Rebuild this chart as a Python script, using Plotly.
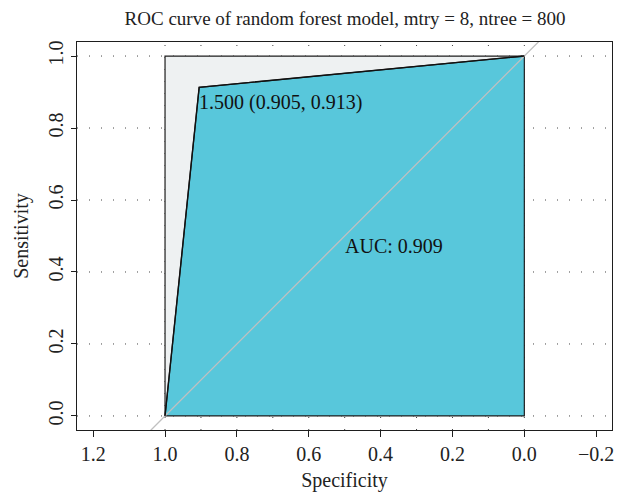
import plotly.graph_objects as go

# ROC data
specificity = [1.0, 0.905, 0.0]
sensitivity = [0.0, 0.913, 1.0]
threshold_label = "1.500 (0.905, 0.913)"
auc_value = 0.909
x_ticks = [1.2, 1.0, 0.8, 0.6, 0.4, 0.2, 0.0, -0.2]
y_ticks = [0.0, 0.2, 0.4, 0.6, 0.8, 1.0]
x_grid = [1.0, 0.9, 0.8, 0.7, 0.6, 0.5, 0.4, 0.3, 0.2, 0.1, 0.0]

FONT = "Liberation Serif"
EDGE = "#1e1e1e"
xr = [1.245, -0.244]
yr = [-0.039, 1.039]

fig = go.Figure()

# grey max-ROC polygon
fig.add_trace(go.Scatter(
    x=[specificity[0], specificity[0], specificity[-1], specificity[0]],
    y=[sensitivity[0], sensitivity[-1], sensitivity[-1], sensitivity[0]],
    mode="lines", fill="toself", fillcolor="#EEF1F2",
    line=dict(color=EDGE, width=1.2), hoverinfo="skip", showlegend=False))

# cyan AUC polygon
fig.add_trace(go.Scatter(
    x=specificity + [specificity[-1], specificity[0]],
    y=sensitivity + [sensitivity[0], sensitivity[0]],
    mode="lines", fill="toself", fillcolor="#58C7DB",
    line=dict(color=EDGE, width=1.2), hoverinfo="skip", showlegend=False))

# diagonal reference line
fig.add_trace(go.Scatter(
    x=[xr[0] + 1, xr[1] - 1], y=[1 - (xr[0] + 1), 1 - (xr[1] - 1)],
    mode="lines", line=dict(color="#C0C0C0", width=1.3),
    hoverinfo="skip", showlegend=False))

# ROC curve
fig.add_trace(go.Scatter(
    x=specificity, y=sensitivity, mode="lines",
    line=dict(color="#111111", width=1.4), hoverinfo="skip", showlegend=False))

shapes = []
for gx in x_grid:
    shapes.append(dict(type="line", xref="x", yref="paper", x0=gx, x1=gx, y0=0, y1=1,
                       layer="below", line=dict(color="#444444", width=1, dash="1px,11px")))
for gy in y_ticks:
    shapes.append(dict(type="line", xref="paper", yref="y", x0=0, x1=1, y0=gy, y1=gy,
                       layer="below", line=dict(color="#444444", width=1, dash="1px,11px")))

fig.update_layout(
    width=624, height=492,
    margin=dict(l=77, r=12, t=42, b=62),
    paper_bgcolor="white", plot_bgcolor="white",
    font=dict(family=FONT, size=19, color="#222222"),
    title=dict(text="ROC curve of random forest model, mtry = 8, ntree = 800",
               x=0.553, xanchor="center", y=0.962, yanchor="middle",
               font=dict(family=FONT, size=19, color="#222222")),
    shapes=shapes,
    annotations=[
        dict(x=specificity[1], y=sensitivity[1], xref="x", yref="y",
             text=threshold_label, showarrow=False, xanchor="left", yanchor="top",
             xshift=-2, yshift=-2, font=dict(family=FONT, size=20, color="#111111")),
        dict(x=0.5, y=0.472, xref="x", yref="y", text=f"AUC: {auc_value:.3f}",
             showarrow=False, xanchor="left", yanchor="middle", xshift=-2,
             font=dict(family=FONT, size=20, color="#111111")),
    ],
)

fig.update_xaxes(
    range=xr, tickvals=x_ticks, ticktext=[f"{v:.1f}".replace("-", "\u2212") for v in x_ticks],
    showgrid=False, zeroline=False, showline=True, mirror=True, linecolor=EDGE, linewidth=1.3,
    ticks="outside", ticklen=6, tickcolor=EDGE, tickfont=dict(family=FONT, size=20),
    automargin=False,
    title=dict(text="Specificity", font=dict(family=FONT, size=20), standoff=10))
fig.update_yaxes(
    range=yr, tickvals=y_ticks, ticktext=[f"{v:.1f}" for v in y_ticks],
    showgrid=False, zeroline=False, showline=True, mirror=True, linecolor=EDGE, linewidth=1.3,
    ticks="outside", ticklen=5, tickcolor=EDGE, tickangle=-90, tickfont=dict(family=FONT, size=20),
    automargin=False,
    title=dict(text="Sensitivity", font=dict(family=FONT, size=20), standoff=10))

fig.write_html("out.html")
